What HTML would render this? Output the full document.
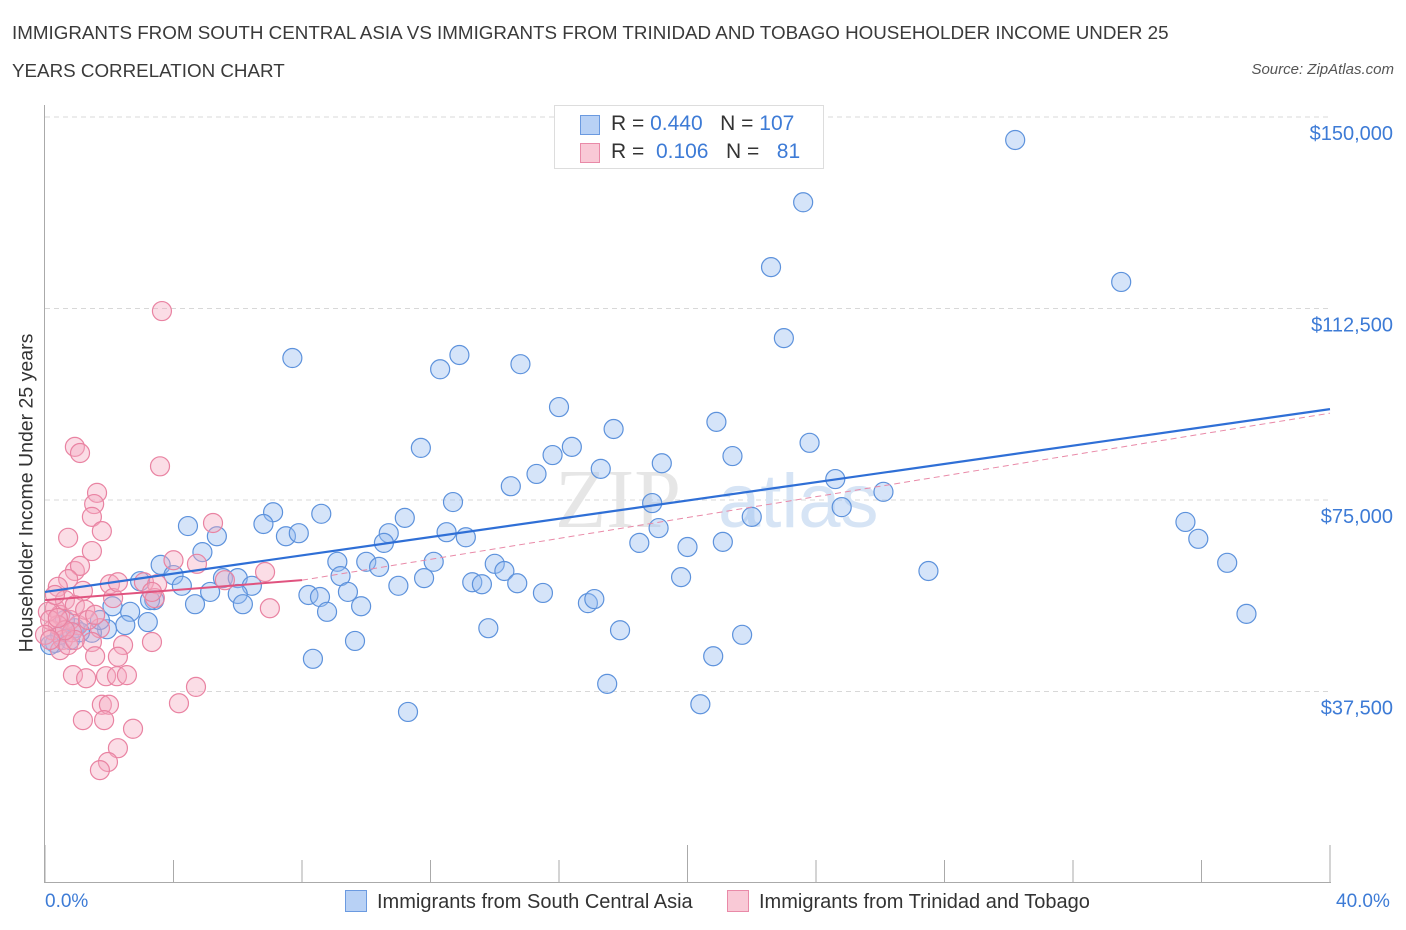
<!DOCTYPE html>
<html><head><meta charset="utf-8"><style>
body{margin:0;background:#fff;font-family:"Liberation Sans",sans-serif;}
#wrap{position:relative;width:1406px;height:930px;overflow:hidden;}
.t{position:absolute;white-space:nowrap;}
</style></head><body>
<div id="wrap">
<div class="t" style="left:12px;top:14px;font-size:18.8px;color:#3a3a3a;line-height:38px;">IMMIGRANTS FROM SOUTH CENTRAL ASIA VS IMMIGRANTS FROM TRINIDAD AND TOBAGO HOUSEHOLDER INCOME UNDER 25<br>YEARS CORRELATION CHART</div>
<div class="t" style="right:12px;top:61px;font-size:15px;color:#555;font-style:italic;">Source: ZipAtlas.com</div>
<svg id="svg" width="1406" height="930" style="position:absolute;left:0;top:0"></svg>
</div>
<script>
const blueX=[30.2,23.6,22.6,33.5,23.0,7.7,12.9,14.8,12.3,16.0,20.9,17.7,11.7,23.8,16.4,21.4,15.8,19.2,17.3,15.3,24.6,14.5,26.1,12.7,18.9,24.8,8.6,7.1,11.2,22.0,4.45,6.8,35.5,12.5,19.1,5.35,7.5,7.9,13.1,10.7,10.55,18.5,20.0,21.1,35.9,4.9,3.6,4.0,9.1,10.0,10.4,12.1,14.0,14.3,36.8,27.5,19.8,9.2,13.3,13.6,14.7,11.0,11.8,2.96,4.26,5.54,6.0,6.44,6.0,5.14,8.2,9.43,8.56,3.4,4.67,6.16,9.84,8.78,15.5,16.9,17.1,37.4,2.1,2.65,3.27,2.5,3.2,1.93,1.46,13.8,17.9,9.65,21.7,20.8,8.34,17.5,11.3,20.4,0.78,0.31,0.47,0.93,1.09,0.62,0.16,1.71];
const blueY=[145.5,133.3,120.6,117.7,106.7,102.8,103.4,101.6,100.6,93.2,90.3,88.9,85.2,86.2,85.4,83.6,83.8,82.2,81.1,80.1,79.1,77.7,76.6,74.6,74.4,73.6,72.3,72.6,71.5,71.7,69.9,70.3,70.7,68.7,69.5,67.9,67.9,68.5,67.7,68.5,66.6,66.6,65.8,66.8,67.4,64.8,62.3,60.3,62.9,62.9,61.9,62.9,62.5,61.1,62.7,61.1,59.9,60.1,58.9,58.5,58.7,58.2,59.7,59.1,58.2,59.7,59.7,58.2,56.6,57.0,56.4,57.0,56.0,55.4,54.6,54.6,54.2,53.1,56.8,54.8,55.6,52.7,54.2,53.1,55.4,50.5,51.1,49.7,49.0,49.9,49.5,47.4,48.6,44.4,43.9,39.0,33.5,35.0,47.6,47.0,48.6,49.9,49.1,51.5,46.6,51.5];
const pinkX=[3.64,0.93,1.09,3.58,1.62,1.53,1.46,5.23,1.77,0.72,1.46,4.73,6.85,4.0,0.93,1.09,0.72,0.4,1.18,2.02,2.12,5.6,2.27,3.08,3.49,3.42,3.33,7.0,1.71,1.03,1.46,3.33,2.43,2.27,1.56,0.87,1.28,1.9,2.24,2.55,4.7,4.17,1.77,1.99,1.18,1.84,2.74,2.27,1.96,1.71,0.31,0.47,0.62,0.78,0.22,0.4,0.56,0.09,0.16,0.93,1.25,0.47,0.84,0.31,0.72,1.34,1.56,0,0.93,0.62,0.16,0.4];
const pinkY=[112.0,85.4,84.2,81.6,76.4,74.2,71.7,70.5,68.9,67.6,65.0,62.5,60.9,63.2,61.1,62.1,59.5,58.0,57.2,58.5,55.8,59.3,58.9,58.9,58.5,55.8,57.0,53.8,49.9,50.5,47.2,47.2,46.6,44.3,44.4,40.7,40.1,40.5,40.5,40.7,38.4,35.2,34.9,34.9,31.9,31.9,30.2,26.4,23.7,22.1,53.8,52.5,55.4,51.5,49.5,50.5,47.6,53.1,51.5,54.4,53.5,45.6,49.1,56.4,46.6,51.5,52.5,48.6,47.6,49.5,47.6,51.9];
const yTicks=[37500,75000,112500,150000];
const yTickLabels=["$37,500","$75,000","$112,500","$150,000"];
const blueLine=[[0,57.0],[40,92.8]];
const pinkLine=[[0,55.4],[8,59.3]];
const pinkDash=[[8,59.3],[40,92.0]];
const X=p=>45+p*32.125, Y=k=>883-k*1000/150000*766;
const svg=document.getElementById('svg');const NS='http://www.w3.org/2000/svg';
function mk(t,a){const e=document.createElementNS(NS,t);for(const k in a)e.setAttribute(k,a[k]);svg.appendChild(e);return e;}
yTicks.forEach((v,i)=>{const g=mk('line',{x1:45,x2:1330,y1:Y(v/1000),y2:Y(v/1000),stroke:'#d8d8d8','stroke-dasharray':'5,4'});


const t=mk('text',{x:1393,y:Y(v/1000)+23,'text-anchor':'end','font-size':20,fill:'#3d7bd6','font-family':'Liberation Sans'});t.textContent=yTickLabels[i];

});
const wm=mk('text',{x:555,y:527,'font-size':84,fill:'#e6e6e6','font-family':'Liberation Serif'});wm.textContent='ZIP';


const wm2=mk('text',{x:718,y:527,'font-size':76,fill:'#d6e4f5','font-family':'Liberation Sans'});wm2.textContent='atlas';


const ya=mk('line',{x1:44.5,x2:44.5,y1:105,y2:883,stroke:'#aaa'});


const xa=mk('line',{x1:44,x2:1331,y1:882.5,y2:882.5,stroke:'#aaa'});


for(let i=0;i<=10;i++){const x=X(i*4);const tk=mk('line',{x1:x,x2:x,y1:i%5==0?845:860,y2:883,stroke:'#aaa'});

}
function dots(xs,ys,fill,stroke,name){xs.forEach((x,i)=>{const c=mk('circle',{cx:X(x),cy:Y(ys[i]),r:9.5,fill:fill,stroke:stroke,'stroke-width':1.2});

});}
dots(blueX,blueY,'rgba(150,188,240,0.4)','#5d92dc','blue-point');
dots(pinkX,pinkY,'rgba(245,170,192,0.4)','#e983a2','pink-point');
function ln(p,col,w,dash,name){const l=mk('line',{x1:X(p[0][0]),y1:Y(p[0][1]),x2:X(p[1][0]),y2:Y(p[1][1]),stroke:col,'stroke-width':w});if(dash)l.setAttribute('stroke-dasharray',dash);

}
ln(pinkDash,'#e98aa8',1,'6,4','pink-trend-extension');
ln(blueLine,'#2f6fd6',2.2,null,'blue-trend-line');
ln(pinkLine,'#e0537f',2,null,'pink-trend-line');
</script>
<div class="t" style="left:27px;top:493px;transform:translate(-50%,-50%) rotate(-90deg);font-size:19.5px;color:#333;">Householder Income Under 25 years</div>
<div class="t" style="left:45px;top:891px;font-size:19px;color:#3d7bd6;">0.0%</div>
<div class="t" style="left:1336px;top:891px;font-size:19px;color:#3d7bd6;">40.0%</div>
<div style="position:absolute;left:554px;top:105px;width:268px;height:62px;border:1px solid #ddd;background:#fff;font-size:21px;color:#333;">
<div style="position:absolute;left:25px;top:9px;width:18px;height:18px;background:#b8d1f5;border:1px solid #6b9ae0;"></div>
<div class="t" style="left:56px;top:6px;">R = <span style="color:#3d7bd6">0.440</span>&nbsp;&nbsp;&nbsp;N = <span style="color:#3d7bd6">107</span></div>
<div style="position:absolute;left:25px;top:37px;width:18px;height:18px;background:#f9c9d6;border:1px solid #e98aa8;"></div>
<div class="t" style="left:56px;top:34px;">R = &nbsp;<span style="color:#3d7bd6">0.106</span>&nbsp;&nbsp;&nbsp;N = &nbsp;&nbsp;<span style="color:#3d7bd6">81</span></div>
</div>
<div style="position:absolute;left:345px;top:890px;font-size:20px;color:#333;white-space:nowrap;">
<span style="display:inline-block;width:20px;height:20px;background:#b8d1f5;border:1px solid #6b9ae0;vertical-align:-4px;margin-right:10px;"></span>Immigrants from South Central Asia</div>
<div style="position:absolute;left:727px;top:890px;font-size:20px;color:#333;white-space:nowrap;">
<span style="display:inline-block;width:20px;height:20px;background:#f9c9d6;border:1px solid #e98aa8;vertical-align:-4px;margin-right:10px;"></span>Immigrants from Trinidad and Tobago</div>
</body></html>
